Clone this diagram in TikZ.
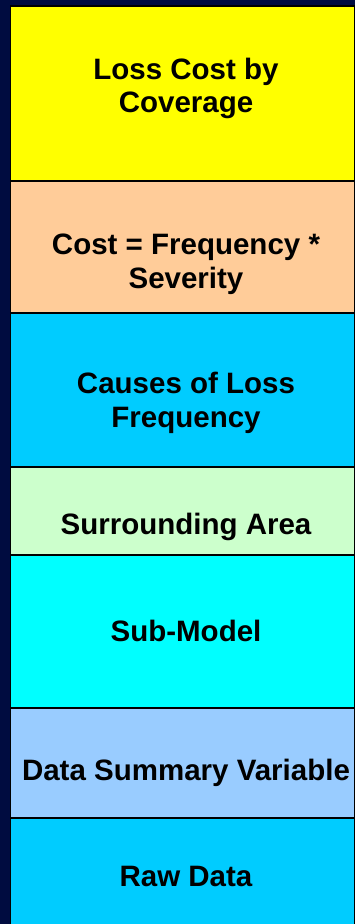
\documentclass[tikz,border=0pt]{standalone}
\usepackage{fontspec}
\setmainfont{Liberation Sans}
\definecolor{navy}{HTML}{000C40}
\definecolor{cyellow}{HTML}{FFFF00}
\definecolor{cpeach}{HTML}{FFCC99}
\definecolor{cblue}{HTML}{00CCFF}
\definecolor{cgreen}{HTML}{CCFFCC}
\definecolor{ccyan}{HTML}{00FFFF}
\definecolor{clblue}{HTML}{99CCFF}
\tikzset{
  layer/.style={draw=black, line width=1.5pt},
  lbl/.style={font=\fontsize{29.5}{33.5}\selectfont\bfseries, align=center, text=black}
}
\begin{document}
\begin{tikzpicture}[x=1pt,y=-1pt]
\fill[navy] (0,0) rectangle (355,924);
\useasboundingbox (0,0) rectangle (355,924);
\filldraw[layer, fill=cyellow] (10.5,6) rectangle (354.5,181);
\filldraw[layer, fill=cpeach] (10.5,181) rectangle (354.5,313);
\filldraw[layer, fill=cblue] (10.5,313) rectangle (354.5,467);
\filldraw[layer, fill=cgreen] (10.5,467) rectangle (354.5,555);
\filldraw[layer, fill=ccyan] (10.5,555) rectangle (354.5,708);
\filldraw[layer, fill=clblue] (10.5,708) rectangle (354.5,818);
\filldraw[layer, fill=cblue] (10.5,818) rectangle (354.5,930);
\node[lbl] (t1) at (186,88.5) {Loss Cost by\\Coverage};
\node[lbl] (t2) at (186,264.5) {Cost = Frequency *\\Severity};
\node[lbl] (t3) at (186,403) {Causes of Loss\\Frequency};
\node[lbl] (t4) at (186,527) {Surrounding Area};
\node[lbl] (t5) at (186,631) {Sub-Model};
\node[lbl] (t6) at (186,773) {Data Summary Variable};
\node[lbl] (t7) at (186,876.5) {Raw Data};
\end{tikzpicture}
\end{document}
